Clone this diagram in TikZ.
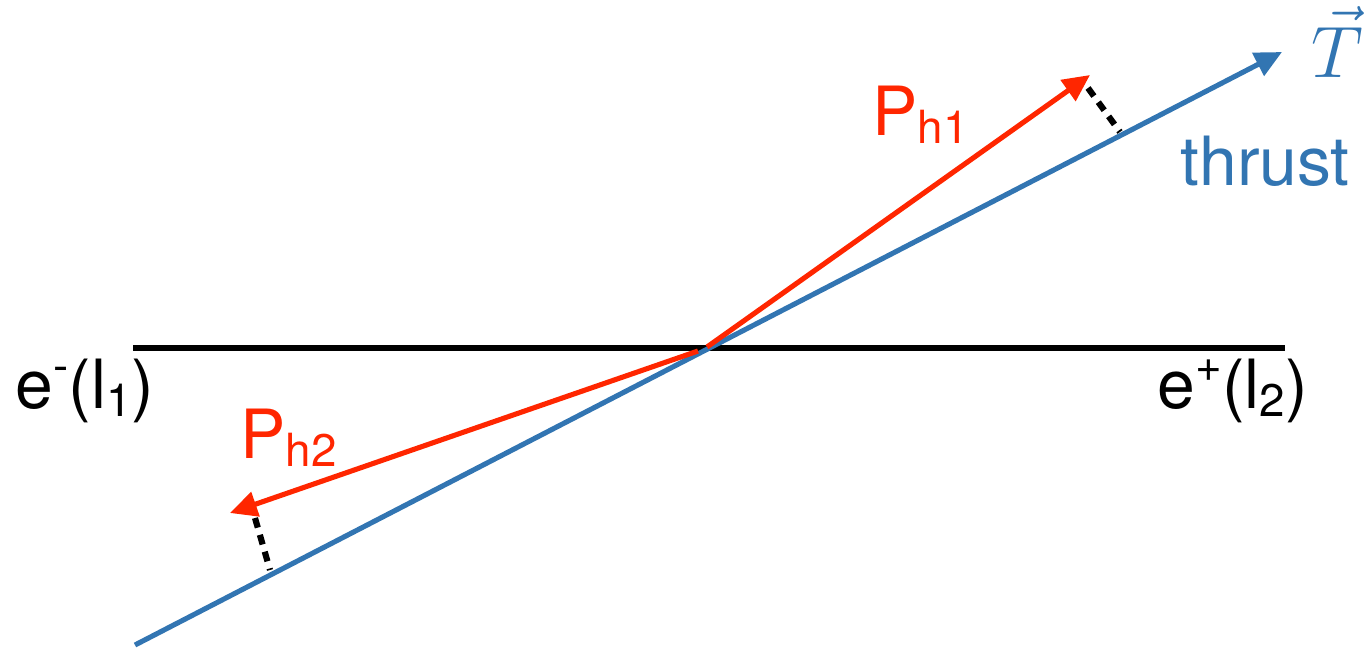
\documentclass[tikz,border=0pt]{standalone}
\usepackage{fontspec}
\setmainfont{TeX Gyre Heros}
\usepackage{tikz}
\usetikzlibrary{arrows.meta}

\definecolor{thrustblue}{RGB}{50,117,178}
\definecolor{hadred}{RGB}{255,38,0}
\newcommand{\lsub}[1]{\raisebox{-0.25ex}{\fontsize{13}{13}\selectfont #1}}
\newcommand{\lsup}[1]{\raisebox{0.75ex}{\fontsize{13}{13}\selectfont #1}}

\begin{document}
\begin{tikzpicture}[
    x=0.01cm, y=-0.01cm,
    beam/.style={line width=1.7pt, black},
    axisline/.style={line width=1.45pt, thrustblue, -{Triangle[length=0.27cm, width=0.25cm]}},
    hadron/.style={line width=1.45pt, hadred, -{Triangle[length=0.27cm, width=0.25cm]}},
    proj/.style={line width=1.75pt, black, dash pattern=on 0.1cm off 0.075cm},
    lbl/.style={inner sep=0pt, anchor=base west, font=\fontsize{19.3}{23}\selectfont}
]
\useasboundingbox (0,0) rectangle (1367,648);

% Points
\coordinate (beamL) at (133,348);
\coordinate (beamR) at (1285,348);
\coordinate (tS) at (135,645);
\coordinate (tE) at (1282,52);
\coordinate (o1) at (707,347);
\coordinate (o2) at (698,351);
\coordinate (ph1) at (1090,75);
\coordinate (ph2) at (230,513);
\coordinate (d1a) at (1088,88);
\coordinate (d1b) at (1120,132);
\coordinate (d2a) at (255,518);
\coordinate (d2b) at (270,570);

% Labels
\node (eminus) [lbl] at (15,408) {e\lsup{-}(l\lsub{1})};
\node (eplus) [lbl] at (1157,408) {e\lsup{+}(l\lsub{2})};
\node (lph1) [lbl, hadred] at (872,135) {P\lsub{h1}};
\node (lph2) [lbl, hadred] at (240,458) {P\lsub{h2}};
\node (lthr) [lbl, thrustblue] at (1180,185) {thrust};
\node (lvec) [lbl, thrustblue, anchor=base, font=\fontsize{20.5}{24}\selectfont] at (1337,77) {$\vec{T}$};

% Lines
\draw [beam] (beamL) -- (beamR);
\draw [axisline] (tS) -- (tE);
\draw [hadron] (o1) -- (ph1);
\draw [hadron] (o2) -- (ph2);
\draw [proj] (d1a) -- (d1b);
\draw [proj] (d2a) -- (d2b);

\end{tikzpicture}
\end{document}
